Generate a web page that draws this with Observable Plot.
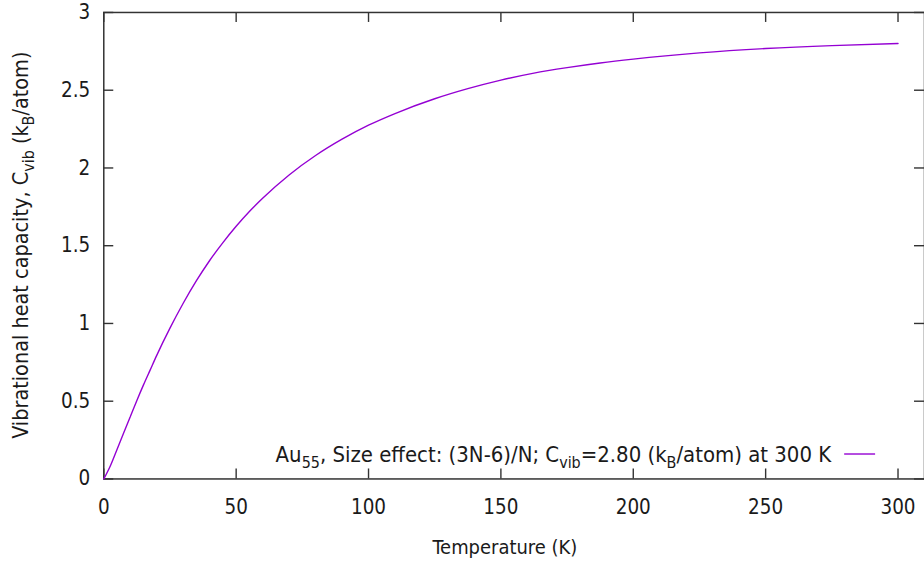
<!DOCTYPE html>
<html><head><meta charset="utf-8">
<script src="https://cdn.jsdelivr.net/npm/d3@7"></script>
<script src="https://cdn.jsdelivr.net/npm/@observablehq/plot@0.6"></script>
<style>html,body{margin:0;padding:0;overflow:hidden;background:#fff}</style>
</head><body><div id="chart"></div>
<script>
// ---- data ----
const temperature = [0,2.5,5,7.5,10,12.5,15,17.5,20,25,30,35,40,45,50,55,60,70,80,90,100,110,125,137.5,150,162.5,175,187.5,200,225,250,275,300];
const cvib = [0,0.085,0.19,0.295,0.40,0.505,0.605,0.70,0.795,0.97,1.13,1.275,1.405,1.52,1.625,1.72,1.805,1.955,2.08,2.185,2.275,2.35,2.445,2.51,2.565,2.61,2.645,2.675,2.70,2.74,2.768,2.787,2.80];
const xTicks = [0,50,100,150,200,250,300];
const yTicks = [0,0.5,1,1.5,2,2.5,3];
const xDomain = [0,310];
const yDomain = [0,3];

// ---- layout ----
const W = 926, H = 565;
const mL = 103.5, mT = 12, mB = 85.5, mR = 0;
const innerW = W - mL - mR, innerH = H - mT - mB;
const tickLen = 10;
const font = '"DejaVu Sans Condensed", "DejaVu Sans", sans-serif';
const axisColor = "#333";
const txtColor = "#1a1a1a";
const lineColor = "#9400d3";

const data = temperature.map((t, i) => ({t, c: cvib[i]}));

const plot = Plot.plot({
  width: W, height: H,
  marginLeft: mL, marginTop: mT, marginBottom: mB, marginRight: mR,
  style: {fontFamily: font, fontSize: "20px", color: txtColor, background: "white", overflow: "visible"},
  x: {domain: xDomain},
  y: {domain: yDomain},
  marks: [
    Plot.axisX(xTicks, {tickSize: 0, tickPadding: 21, label: null, tickFormat: d => String(d), fontSize: 20.5}),
    Plot.axisY(yTicks, {tickSize: 0, tickPadding: 13.5, label: null, tickFormat: d => String(d), fontSize: 20.5}),
    Plot.tickX(xTicks, {x: d => d, insetTop: innerH - tickLen, stroke: axisColor, strokeWidth: 1.4}),
    Plot.tickX(xTicks, {x: d => d, insetBottom: innerH - tickLen, stroke: axisColor, strokeWidth: 1.4}),
    Plot.tickY(yTicks, {y: d => d, insetRight: innerW - tickLen, stroke: axisColor, strokeWidth: 1.4}),
    Plot.tickY(yTicks, {y: d => d, insetLeft: innerW - tickLen, stroke: axisColor, strokeWidth: 1.4}),
    Plot.frame({stroke: axisColor, strokeWidth: 1.5}),
    Plot.line(data, {x: "t", y: "c", stroke: lineColor, strokeWidth: 1.4, curve: "monotone-x"})
  ]
});
document.getElementById("chart").appendChild(plot);

// ---- rich-text labels with subscripts ----
const svg = d3.select(plot);
function richText(sel, parts, size) {
  const sub = Math.round(size * 0.74), shift = size * 0.28;
  let down = false;
  parts.forEach(p => {
    const isSub = p.startsWith("_");
    const s = isSub ? p.slice(1) : p;
    const ts = sel.append("tspan").text(s);
    if (isSub) { ts.attr("font-size", sub).attr("dy", down ? 0 : shift); down = true; }
    else { ts.attr("font-size", size).attr("dy", down ? -shift : 0); down = false; }
  });
}
const g = svg.append("g").attr("font-family", font).attr("fill", txtColor);

// x label
g.append("text").attr("x", 506).attr("y", 555.5).attr("text-anchor", "middle")
  .attr("font-size", 20).text("Temperature (K)");

// y label
const yl = g.append("text").attr("transform", `translate(28,${(mT + H - mB) / 2}) rotate(-90)`)
  .attr("text-anchor", "middle");
richText(yl, ["Vibrational heat capacity, C", "_vib", " (k", "_B", "/atom)"], 21.5);

// legend
const lg = g.append("text").attr("x", 833).attr("y", 463).attr("text-anchor", "end");
richText(lg, ["Au", "_55", ", Size effect: (3N-6)/N; C", "_vib", "=2.80 (k", "_B", "/atom) at 300 K"], 22);
svg.append("line").attr("x1", 846).attr("x2", 877).attr("y1", 455).attr("y2", 455)
  .attr("stroke", lineColor).attr("stroke-width", 1.4);
</script></body></html>
